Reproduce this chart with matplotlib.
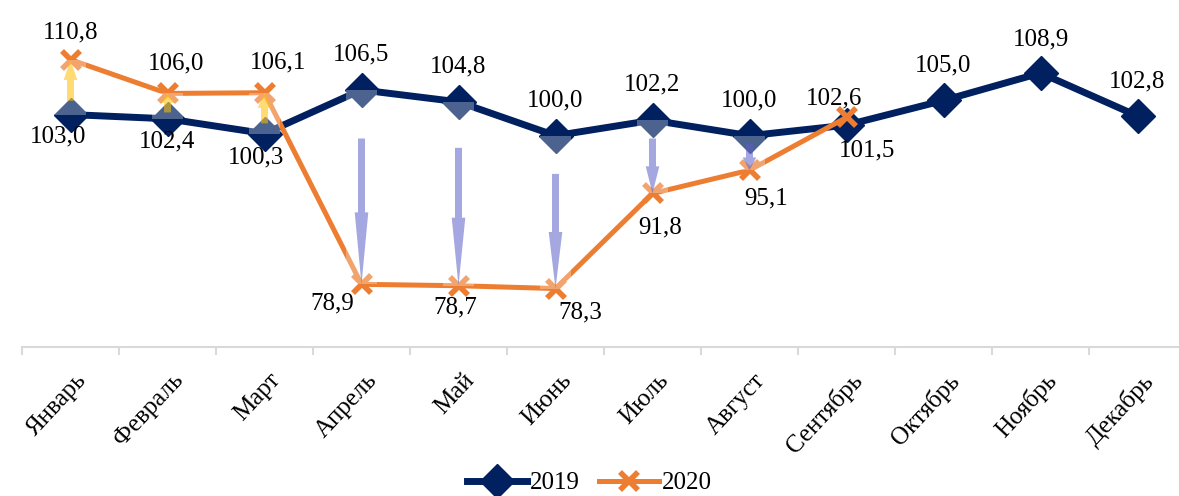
import matplotlib
matplotlib.use("Agg")
import matplotlib.pyplot as plt
import matplotlib.transforms as mtransforms
from matplotlib.patches import Polygon, Rectangle
from matplotlib.lines import Line2D

months = ["Январь", "Февраль", "Март", "Апрель", "Май", "Июнь",
          "Июль", "Август", "Сентябрь", "Октябрь", "Ноябрь", "Декабрь"]
v2019 = [103.0, 102.4, 100.3, 106.5, 104.8, 100.0, 102.2, 100.0, 101.5, 105.0, 108.9, 102.8]
v2020 = [110.8, 106.0, 106.1, 78.9, 78.7, 78.3, 91.8, 95.1, 102.6]

# label offsets in pixels (dx, dy downward)
off2019 = [(-12, 22), (0, 23), (-8, 24), (0, -35), (0, -35), (0, -35), (0, -36),
           (0, -35), (21, 25), (0, -35), (0, -34), (0, -35)]
off2020 = [(0, -27), (9, -30), (14, -30), (-29, 19), (-3, 22), (25, 24),
           (8, 34), (17, 28), (-12, -19)]

NAVY = "#002060"
ORANGE = "#ED7D31"
SERIF = "Liberation Serif"

W, H, DPI = 1179, 496, 100
fig = plt.figure(figsize=(W / DPI, H / DPI), dpi=DPI)
ax = fig.add_axes([22 / W, (H - 347) / H, 1164 / W, 324 / H])
ax.set_xlim(-0.5, 11.5)
ax.set_ylim(70, 116)
for s in ["top", "right", "left"]:
    ax.spines[s].set_visible(False)
ax.spines["bottom"].set_color("#D9D9D9")
ax.spines["bottom"].set_linewidth(1.5)
ax.set_yticks([])

x19 = list(range(len(v2019)))
x20 = list(range(len(v2020)))

ax.plot(x19, v2019, color=NAVY, lw=5, marker="D", ms=17, zorder=3,
        solid_joinstyle="round")
ax.plot(x20, v2020, color=ORANGE, lw=3.6, marker="x", ms=13, mew=4, zorder=4)

# translucent highlight bars and arrows
sw = 0.036   # shaft half-width (category units)
hw = 0.070   # head half-width
for i in x20:
    a, b = v2019[i], v2020[i]
    d = b - a
    if abs(d) < 1.5:
        continue
    ax.add_patch(Rectangle((i - 0.155, min(a, b)), 0.31, abs(d),
                           facecolor="white", alpha=0.3, edgecolor="none", zorder=5))
    start = a + 0.25 * d
    hb = b - 0.37 * d
    poly = [(i - sw, start), (i + sw, start), (i + sw, hb), (i + hw, hb),
            (i, b), (i - hw, hb), (i - sw, hb)]
    col = "#FFC000" if d > 0 else "#5B5FC7"
    ax.add_patch(Polygon(poly, closed=True, facecolor=col, alpha=0.55,
                         edgecolor="none", zorder=6))

px = 72 / DPI
for i, v in enumerate(v2019):
    dx, dy = off2019[i]
    ax.annotate(f"{v:.1f}".replace(".", ","), (i, v), xytext=(dx * px, -dy * px),
                textcoords="offset points", ha="center", va="center",
                fontsize=18, family=SERIF, color="black", zorder=8)
for i, v in enumerate(v2020):
    dx, dy = off2020[i]
    ax.annotate(f"{v:.1f}".replace(".", ","), (i, v), xytext=(dx * px, -dy * px),
                textcoords="offset points", ha="center", va="center",
                fontsize=18, family=SERIF, color="black", zorder=8)

# ticks
ax.set_xticks([i - 0.5 for i in range(13)], minor=True)
ax.tick_params(axis="x", which="minor", length=6, width=1.5, color="#D9D9D9")
ax.set_xticks(x19)
ax.tick_params(axis="x", which="major", length=0, pad=16)
ax.set_xticklabels(months, rotation=47, ha="right", va="top",
                   rotation_mode="anchor", fontsize=18, family=SERIF)
shift = mtransforms.ScaledTranslation(4 / DPI, 0, fig.dpi_scale_trans)
for lab in ax.get_xticklabels():
    lab.set_transform(lab.get_transform() + shift)

handles = [Line2D([], [], color=NAVY, lw=5, marker="D", ms=17),
           Line2D([], [], color=ORANGE, lw=3.6, marker="x", ms=13, mew=4)]
fig.legend(handles, ["2019", "2020"], loc="center", bbox_to_anchor=(0.5, 13 / H),
           ncol=2, frameon=False, prop={"family": SERIF, "size": 18},
           handlelength=2.4, handletextpad=0.1, columnspacing=0.8)

fig.savefig("out.png", dpi=DPI)
